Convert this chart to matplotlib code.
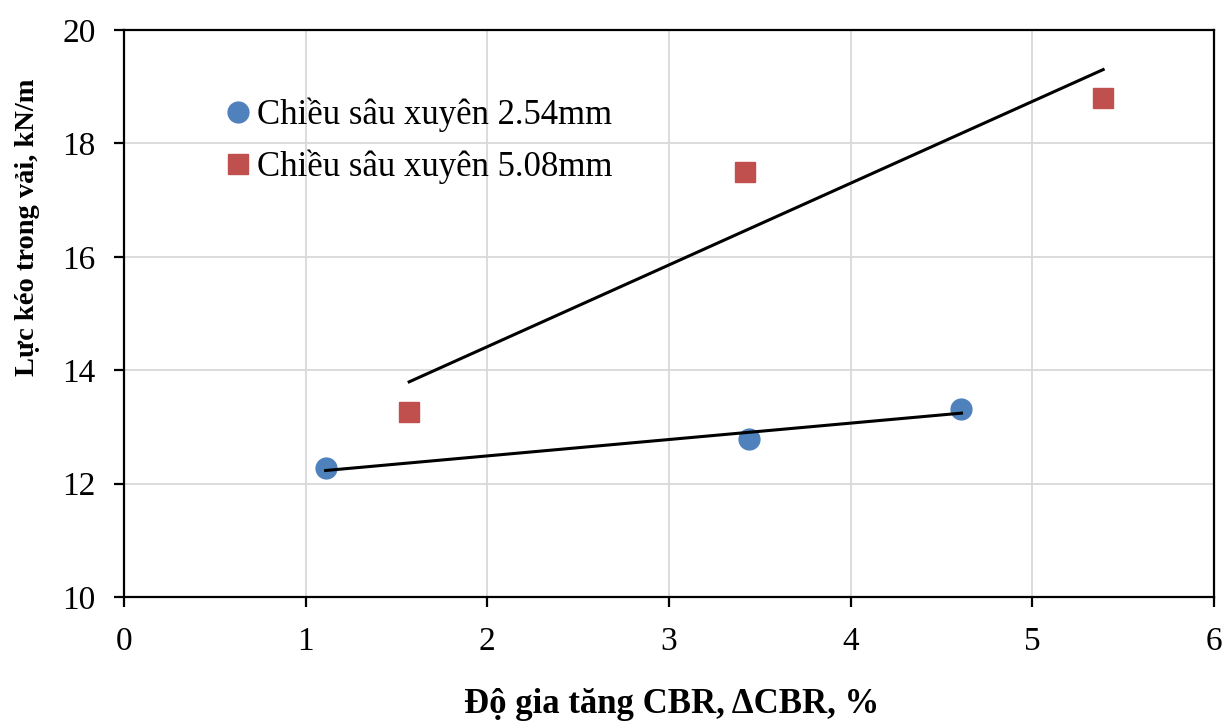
import matplotlib
matplotlib.use("Agg")
import matplotlib.pyplot as plt
import numpy as np

x_254 = [1.11, 3.44, 4.61]
y_254 = [12.27, 12.79, 13.32]
x_508 = [1.57, 3.42, 5.39]
y_508 = [13.26, 17.50, 18.80]
labels = ["Chiều sâu xuyên 2.54mm", "Chiều sâu xuyên 5.08mm"]
xticks = [0, 1, 2, 3, 4, 5, 6]
yticks = [10, 12, 14, 16, 18, 20]

plt.rcParams['font.family'] = ['Liberation Serif', 'DejaVu Serif']

fig = plt.figure(figsize=(12.26, 7.22), dpi=100)
ax = fig.add_axes([0.1011, 0.1731, 0.8891, 0.7853])

ax.plot(x_254, y_254, 'o', color='#4F81BD', markersize=15, label=labels[0], zorder=3)
ax.plot(x_508, y_508, 's', color='#C0504D', markersize=15, label=labels[1], zorder=3)

for xs, ys in [(x_254, y_254), (x_508, y_508)]:
    p = np.polyfit(xs, ys, 1)
    xx = np.array([min(xs), max(xs)])
    ax.plot(xx, np.polyval(p, xx), color='black', linewidth=2.2, zorder=4)

ax.set_xlim(0, 6)
ax.set_ylim(10, 20)
ax.set_xticks(xticks)
ax.set_yticks(yticks)
ax.grid(True, color='#D9D9D9', linewidth=1.3)
ax.set_axisbelow(True)
for s in ax.spines.values():
    s.set_color('black')
    s.set_linewidth(1.6)
ax.tick_params(axis='both', direction='out', length=7.5, width=1.6, labelsize=24)
ax.tick_params(axis='y', pad=13)
ax.tick_params(axis='x', pad=14)

ax.set_xlabel("Độ gia tăng CBR, ΔCBR, %", fontsize=25, fontweight='bold')
ax.xaxis.set_label_coords(0.502, -0.16)
ax.set_ylabel("Lực kéo trong vải, kN/m", fontsize=20.5, fontweight='bold')
ax.yaxis.set_label_coords(-0.077, 0.6526)

ax.legend(loc='upper left', bbox_to_anchor=(0.074, 0.905), frameon=False, fontsize=25,
          handletextpad=0.0, handlelength=1.1, labelspacing=0.5, borderaxespad=0)

fig.savefig("out.png", dpi=100)
